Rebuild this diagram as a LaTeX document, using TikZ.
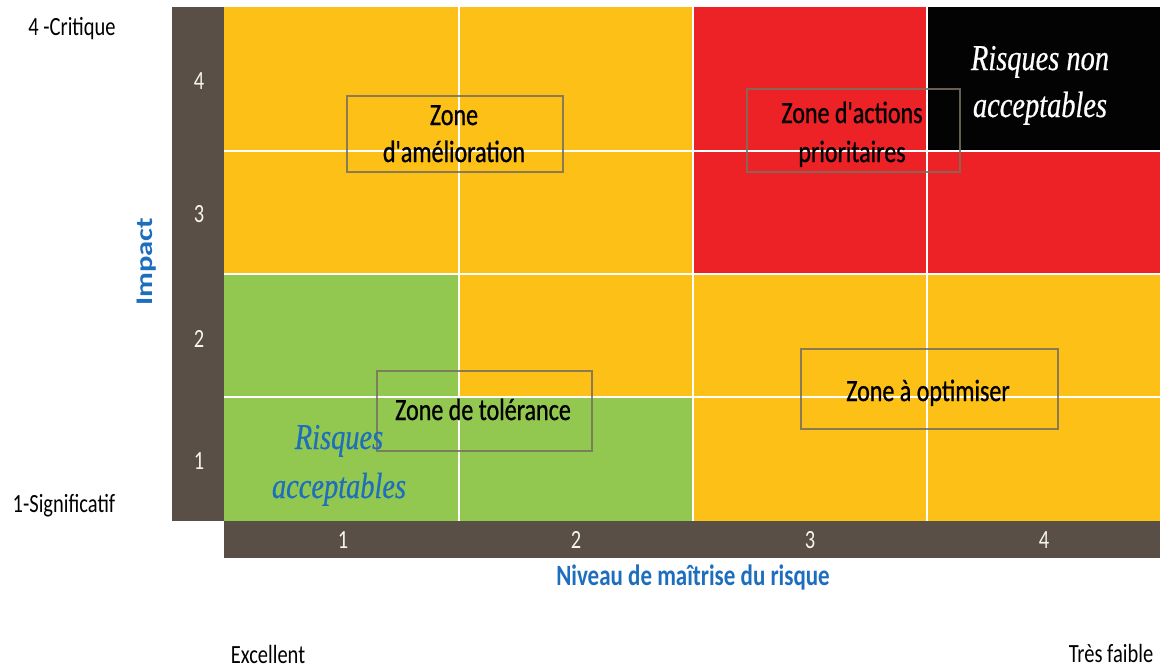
\documentclass[tikz,border=0pt]{standalone}
\usepackage{fontspec}
\newfontfamily\cfont{Carlito}[FakeStretch=0.78]
\newfontfamily\cfontz{Carlito}[FakeStretch=0.78,FakeBold=0.8]
\newfontfamily\cfontrot{Carlito}[FakeStretch=1.28]
\newfontfamily\sfontit{Liberation Serif}[FakeStretch=0.78,FakeBold=0.5]
\definecolor{orangecell}{RGB}{252,192,22}
\definecolor{redcell}{RGB}{236,34,39}
\definecolor{greencell}{RGB}{146,200,80}
\definecolor{barcol}{RGB}{89,79,71}
\definecolor{blackcell}{RGB}{3,3,3}
\definecolor{bluetxt}{RGB}{30,110,190}
\definecolor{boxcol}{RGB}{120,112,96}
\definecolor{numcol}{RGB}{245,245,235}
\tikzset{
  zonetext/.style={anchor=base, inner sep=0pt, font=\cfontz\fontsize{23.1}{27}\selectfont, text=black},
  lbltext/.style={anchor=base, inner sep=0pt, font=\cfont\fontsize{19.7}{23}\selectfont, text=black},
  numtext/.style={anchor=base, inner sep=0pt, font=\cfont\fontsize{19.7}{23}\selectfont, text=numcol},
  axistext/.style={anchor=base, inner sep=0pt, font=\cfont\bfseries\fontsize{22.1}{26}\selectfont, text=bluetxt},
  risktext/.style={anchor=base, inner sep=0pt, font=\sfontit\itshape\fontsize{27.3}{32}\selectfont},
  zonebox/.style={draw=boxcol, draw opacity=0.85, line width=1.2pt},
  gridline/.style={draw=white, line width=1.5pt}
}
\begin{document}
\begin{tikzpicture}[x=0.75pt,y=-0.75pt]
\useasboundingbox (0,0) rectangle (1160,669);
\fill[white] (0,0) rectangle (1160,669);
% bars
\fill[barcol] (172,7) rectangle (224,521);
\fill[barcol] (224,521) rectangle (1160,558);
% cells
\fill[orangecell] (224,7) rectangle (1160,521);
\fill[redcell] (693,7) rectangle (1160,274);
\fill[blackcell] (927,7) rectangle (1160,151);
\fill[greencell] (224,274) rectangle (459,521);
\fill[greencell] (459,397) rectangle (693,521);
% grid lines
\draw[gridline] (459,7) -- (459,521);
\draw[gridline] (693,7) -- (693,521);
\draw[gridline] (927,7) -- (927,521);
\draw[gridline] (224,151) -- (1160,151);
\draw[gridline] (224,274) -- (1160,274);
\draw[gridline] (224,397) -- (1160,397);
% zone boxes
\draw[zonebox] (347,96) rectangle (563,172);
\draw[zonebox] (747,89) rectangle (960,172);
\draw[zonebox] (377,371) rectangle (592,451);
\draw[zonebox] (801,349) rectangle (1058,429);
% zone labels
\node[zonetext] (za1) at (454,125) {Zone};
\node[zonetext] (za2) at (454,162) {d'amélioration};
\node[zonetext] (zp1) at (852,123) {Zone d'actions};
\node[zonetext] (zp2) at (852,162) {prioritaires};
\node[zonetext] (zt) at (483,420) {Zone de tolérance};
\node[zonetext] (zo) at (928,401) {Zone à optimiser};
% risk labels
\node[risktext, text=white] (rn1) at (1040,70) {Risques non};
\node[risktext, text=white] (rn2) at (1040,117) {acceptables};
\node[risktext, text=bluetxt] (ra1) at (339,449) {Risques};
\node[risktext, text=bluetxt] (ra2) at (339,498) {acceptables};
% axis numbers
\node[numtext] (y4) at (199,89) {4};
\node[numtext] (y3) at (199,222) {3};
\node[numtext] (y2) at (199,347) {2};
\node[numtext] (y1) at (199,469) {1};
\node[numtext] (x1) at (343,548) {1};
\node[numtext] (x2) at (576,548) {2};
\node[numtext] (x3) at (810,548) {3};
\node[numtext] (x4) at (1044,548) {4};
% axis titles
\node[axistext] (xt) at (693,585) {Niveau de maîtrise du risque};
\node[inner sep=0pt, rotate=90, font=\cfontrot\bfseries\fontsize{17.9}{21}\selectfont, text=bluetxt] (yt) at (147,262) {Impact};
% side labels
\node[lbltext] (crit) at (72,35) {4 -Critique};
\node[lbltext] (sig) at (64,512) {1-Significatif};
\node[lbltext] (exc) at (268,663) {Excellent};
\node[lbltext] (tf) at (1111,662) {Très faible};
\end{tikzpicture}
\end{document}
